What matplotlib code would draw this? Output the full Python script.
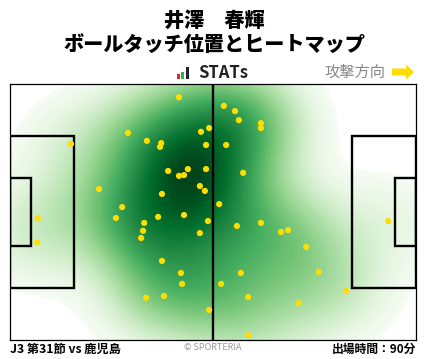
import numpy as np
import matplotlib
matplotlib.use("Agg")
from matplotlib import pyplot as plt
from matplotlib.patches import Rectangle, FancyArrow

plt.rcParams['font.family'] = ['Noto Sans CJK JP', 'DejaVu Sans']

# ボールタッチ位置 (m, 105 x 68 pitch, attacking to the right)
touch_x = [43.7, 55.3, 58.2, 59.2, 64.9, 64.9, 51.5, 49.4, 30.5, 35.4,
           39.1, 38.8, 15.8, 50.7, 55.9, 40.9, 46.0, 43.7, 45.0, 50.7,
           60.3, 23.0, 49.1, 50.4, 39.3, 29.0, 54.1, 27.4, 38.3, 45.0,
           7.2, 51.2, 34.7, 34.4, 33.9, 49.1, 7.0, 58.7, 64.9, 70.1,
           71.9, 97.8, 76.6, 39.3, 44.2, 44.5, 59.7, 54.6, 79.9, 35.2,
           39.8, 51.5, 61.6, 74.7, 86.9, 61.6]
touch_y = [64.5, 62.2, 60.8, 58.4, 57.6, 56.3, 56.3, 55.3, 55.0, 52.9,
           52.3, 51.3, 52.1, 51.8, 51.8, 44.9, 45.4, 43.6, 43.8, 45.4,
           44.4, 40.1, 40.9, 39.6, 38.8, 35.3, 36.1, 32.4, 32.7, 33.2,
           32.4, 31.6, 31.1, 29.0, 27.1, 28.4, 26.0, 30.3, 31.1, 28.7,
           29.2, 31.6, 24.7, 21.0, 17.8, 14.9, 17.8, 14.9, 18.1, 11.2,
           11.7, 8.0, 11.4, 9.8, 13.0, 1.3]

title1 = "井澤　春輝"
title2 = "ボールタッチ位置とヒートマップ"
match_label = "J3 第31節 vs 鹿児島"
minutes_label = "出場時間：90分"

fig = plt.figure(figsize=(4.28, 3.59), dpi=100)
W, H = 428, 359

# ピッチ
ax = fig.add_axes([10 / W, 19 / H, 406 / W, 256 / H])
ax.set_xlim(0, 105)
ax.set_ylim(0, 68)
ax.set_xticks([])
ax.set_yticks([])
for s in ax.spines.values():
    s.set_linewidth(0.9)

# heatmap (gaussian kde)
px = np.array(touch_x)
py = np.array(touch_y)
n = len(px)
f = 1.1 * n ** (-1 / 6)
bx = px.std(ddof=1) * f
by = py.std(ddof=1) * f
gx, gy = np.meshgrid(np.linspace(0, 105, 211), np.linspace(0, 68, 137))
dens = np.zeros_like(gx)
for xi, yi in zip(px, py):
    dens += np.exp(-0.5 * (((gx - xi) / bx) ** 2 + ((gy - yi) / by) ** 2))
dens = (dens / dens.max()) ** 0.6
ax.contourf(gx, gy, dens, levels=np.linspace(0.12, 1.0, 80), cmap="Greens",
            zorder=1)

lk = dict(color="black", lw=1.7, zorder=3)
ax.plot([52.5, 52.5], [0, 68], **lk)
ax.add_patch(Rectangle((0, 13.84), 16.5, 40.32, fill=False, **lk))
ax.add_patch(Rectangle((0, 24.84), 5.5, 18.32, fill=False, **lk))
ax.add_patch(Rectangle((88.5, 13.84), 16.5, 40.32, fill=False, **lk))
ax.add_patch(Rectangle((99.5, 24.84), 5.5, 18.32, fill=False, **lk))

ax.scatter(px, py, s=20, color="#FFDD00", edgecolors="none", zorder=4,
           clip_on=False)

# タイトル
fig.text(214 / W, 1 - 21 / H, title1, ha="center", va="center",
         fontsize=14.5, fontweight="heavy")
fig.text(214 / W, 1 - 46 / H, title2, ha="center", va="center",
         fontsize=14.5, fontweight="heavy")

# STATs ロゴ
lg = fig.add_axes([177 / W, 1 - 79 / H, 12 / W, 12 / H])
lg.set_xlim(0, 12)
lg.set_ylim(0, 12)
lg.axis("off")
lg.bar([1.5, 5.5, 10], [5, 7, 12], width=[3, 3, 3],
       color=["#e8202a", "#2bb34a", "#222222"])
fig.text(223 / W, 1 - 73 / H, "STATs", ha="center", va="center",
         fontsize=12, fontweight="bold", color="#222222")

# 攻撃方向
fig.text(355 / W, 1 - 72 / H, "攻撃方向", ha="center", va="center",
         fontsize=11, color="#888888")
ar = fig.add_axes([390 / W, 1 - 80 / H, 26 / W, 16 / H])
ar.set_xlim(0, 26)
ar.set_ylim(0, 16)
ar.axis("off")
ar.add_patch(FancyArrow(2, 8, 14, 0, width=7, head_width=15, head_length=8,
                        length_includes_head=False, color="#FFDD00", lw=0))

# フッター
fig.text(10 / W, 1 - 349 / H, match_label, ha="left", va="center",
         fontsize=8.8, fontweight="bold")
fig.text(213 / W, 1 - 348 / H, "© SPORTERIA", ha="center", va="center",
         fontsize=6.5, color="#999999")
fig.text(416 / W, 1 - 349 / H, minutes_label, ha="right", va="center",
         fontsize=8.5, fontweight="bold")

fig.savefig("out.png", dpi=100)
